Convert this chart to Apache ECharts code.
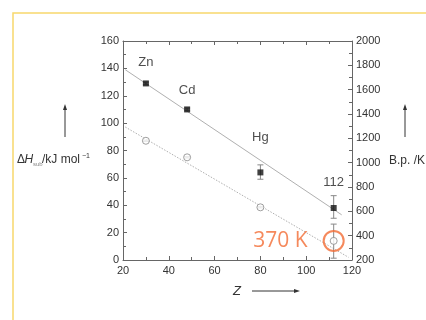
<!DOCTYPE html>
<html><head><meta charset="utf-8">
<script src="https://cdn.jsdelivr.net/npm/echarts@6/dist/echarts.min.js"></script>
<style>html,body{margin:0;padding:0;background:#fff}#c{width:426px;height:320px}</style>
</head><body><div id="c"></div>
<script>
// ---- data ----
const zValues = [30, 48, 80, 112];
const elementNames = ['Zn', 'Cd', 'Hg', '112'];
const hSub = [129, 110, 64, 38];                 // ΔH_sub / kJ mol-1
const hSubLow = [128, 109, 59, 30.5];
const hSubHigh = [130, 111, 69.5, 47];
const boilingPoint = [1180, 1044, 633, 357];     // B.p. / K
const bpLow = [1175, 1039, 628, 215];
const bpHigh = [1185, 1049, 638, 495];
const fitH = [[21, 139], [115.5, 33]];
const fitBp = [[21, 1293], [118.5, 222]];
const highlight = [[112, 357]];
const highlightText = '370 K';
const xTicks = [20, 40, 60, 80, 100, 120];
const leftTicks = [0, 20, 40, 60, 80, 100, 120, 140, 160];
const rightTicks = [200, 400, 600, 800, 1000, 1200, 1400, 1600, 1800, 2000];

const FONT = 'Liberation Sans, Arial, Helvetica, sans-serif';
const axisCol = '#666';
const txtCol = '#333';

const chart = echarts.init(document.getElementById('c'), null, {renderer: 'canvas'});

function errBar(yIdx, lows, highs) {
  return {
    type: 'custom', yAxisIndex: yIdx, silent: true, z: 3,
    data: zValues.map((z, i) => [z, lows[i], highs[i]]),
    renderItem: function (params, api) {
      const x = api.value(0);
      const lo = api.coord([x, api.value(1)]);
      const hi = api.coord([x, api.value(2)]);
      const w = 3;
      const st = {stroke: '#888', lineWidth: 1};
      return {type: 'group', children: [
        {type: 'line', shape: {x1: lo[0], y1: lo[1], x2: hi[0], y2: hi[1]}, style: st},
        {type: 'line', shape: {x1: lo[0] - w, y1: lo[1], x2: lo[0] + w, y2: lo[1]}, style: st},
        {type: 'line', shape: {x1: hi[0] - w, y1: hi[1], x2: hi[0] + w, y2: hi[1]}, style: st}
      ]};
    }
  };
}

const axisCommon = {
  axisLine: {show: true, lineStyle: {color: axisCol, width: 1}},
  axisTick: {show: true, inside: true, length: 4, lineStyle: {color: axisCol}},
  minorTick: {show: true, splitNumber: 2, length: 3, lineStyle: {color: axisCol}},
  splitLine: {show: false},
  axisLabel: {color: txtCol, fontSize: 11, fontFamily: FONT, margin: 4, formatter: v => String(v)}
};

const option = {
  animation: false,
  backgroundColor: '#fff',
  grid: {left: 123, right: 74, top: 41, bottom: 60},
  xAxis: [
    Object.assign({}, axisCommon, {type: 'value', min: xTicks[0], max: xTicks[xTicks.length - 1], interval: 20,
      axisLabel: Object.assign({}, axisCommon.axisLabel, {margin: 5})}),
    Object.assign({}, axisCommon, {type: 'value', position: 'top', min: xTicks[0], max: xTicks[xTicks.length - 1], interval: 20,
      axisLabel: {show: false}})
  ],
  yAxis: [
    Object.assign({}, axisCommon, {type: 'value', min: leftTicks[0], max: leftTicks[leftTicks.length - 1], interval: 20}),
    Object.assign({}, axisCommon, {type: 'value', position: 'right', min: rightTicks[0], max: rightTicks[rightTicks.length - 1], interval: 200})
  ],
  series: [
    {type: 'line', data: fitH, yAxisIndex: 0, symbol: 'none', silent: true, z: 1,
      lineStyle: {color: '#b0b0b0', width: 1, type: 'solid'}},
    {type: 'line', data: fitBp, yAxisIndex: 1, symbol: 'none', silent: true, z: 1,
      lineStyle: {color: '#b0b0b0', width: 1, type: [1.5, 1.5]}},
    errBar(0, hSubLow, hSubHigh),
    errBar(1, bpLow, bpHigh),
    {type: 'scatter', yAxisIndex: 0, z: 5, symbol: 'rect', symbolSize: 6,
      data: zValues.map((z, i) => [z, hSub[i]]),
      itemStyle: {color: '#111'},
      label: {show: true, position: 'top', distance: 0, formatter: p => elementNames[p.dataIndex],
        fontSize: 13, fontFamily: FONT, color: '#222',
        offset: [0, -8]},
      labelLayout: function (p) {
        const extra = [-12, -10, -25, -16][p.dataIndex];
        return {dy: extra};
      }},
    {type: 'scatter', yAxisIndex: 1, z: 5, symbol: 'circle', symbolSize: 7,
      data: zValues.map((z, i) => [z, boilingPoint[i]]),
      itemStyle: {color: '#fff', borderColor: '#888', borderWidth: 1}},
    {type: 'scatter', yAxisIndex: 1, z: 6, symbol: 'circle', symbolSize: 20,
      data: highlight,
      itemStyle: {color: 'rgba(0,0,0,0)', borderColor: '#f26b33', borderWidth: 2},
      label: {show: true, position: 'left', distance: 15, formatter: highlightText,
        fontSize: 21, fontFamily: 'Open Sans, ' + FONT, color: '#f26b33'}}
  ],
  graphic: [
    {type: 'rect', shape: {x: 13, y: 13, width: 600, height: 600}, style: {fill: 'none', stroke: '#f8d86c', lineWidth: 1.5}, silent: true},
    // left axis name
    {type: 'text', x: 17, y: 160, style: {text: 'Δ', fontSize: 12, fontFamily: FONT, fill: txtCol, verticalAlign: 'middle'}},
    {type: 'text', x: 24.5, y: 160, style: {text: 'H', fontSize: 12, fontStyle: 'italic', fontFamily: FONT, fill: txtCol, verticalAlign: 'middle'}},
    {type: 'text', x: 33, y: 164, style: {text: 'sub', fontSize: 6, fontFamily: FONT, fill: '#888', verticalAlign: 'middle'}},
    {type: 'text', x: 42, y: 160, style: {text: '/kJ mol', fontSize: 12, fontFamily: FONT, fill: txtCol, verticalAlign: 'middle'}},
    {type: 'text', x: 82, y: 156.5, style: {text: '−1', fontSize: 7, fontFamily: FONT, fill: txtCol, verticalAlign: 'middle'}},
    // left arrow
    {type: 'line', shape: {x1: 65, y1: 137, x2: 65, y2: 109}, style: {stroke: '#333', lineWidth: 1}},
    {type: 'polygon', shape: {points: [[65, 104], [63, 110], [67, 110]]}, style: {fill: '#333'}},
    // right axis name
    {type: 'text', x: 389, y: 161, style: {text: 'B.p. /K', fontSize: 12, fontFamily: FONT, fill: txtCol, verticalAlign: 'middle'}},
    {type: 'line', shape: {x1: 405, y1: 137, x2: 405, y2: 109}, style: {stroke: '#333', lineWidth: 1}},
    {type: 'polygon', shape: {points: [[405, 104], [403, 110], [407, 110]]}, style: {fill: '#333'}},
    // x axis name
    {type: 'text', x: 233, y: 291, style: {text: 'Z', fontSize: 13, fontStyle: 'italic', fontFamily: FONT, fill: txtCol, verticalAlign: 'middle'}},
    {type: 'line', shape: {x1: 252, y1: 291, x2: 295, y2: 291}, style: {stroke: '#333', lineWidth: 1}},
    {type: 'polygon', shape: {points: [[300, 291], [294, 289], [294, 293]]}, style: {fill: '#333'}}
  ]
};
chart.setOption(option);
</script>
</body></html>
